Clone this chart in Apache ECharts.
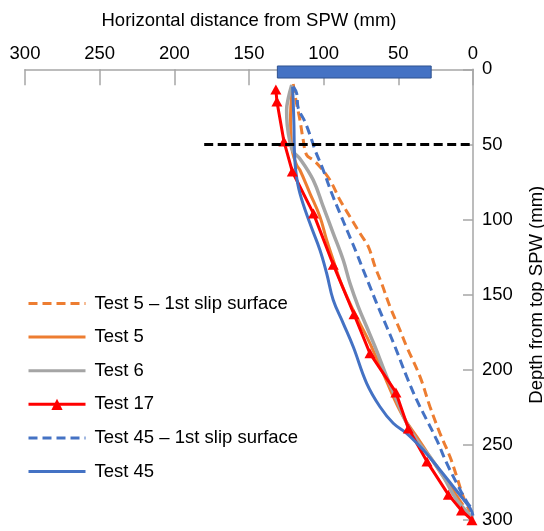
<!DOCTYPE html>
<html>
<head>
<meta charset="utf-8">
<script src="https://cdn.jsdelivr.net/npm/echarts@6/dist/echarts.min.js"></script>
<style>
html, body { margin: 0; padding: 0; background: #ffffff; }
#chart { width: 544px; height: 531px; }
</style>
</head>
<body>
<div id="chart"></div>
<script>
// x = horizontal distance from SPW (mm), y = depth from top SPW (mm)
const test5SlipX = [120.4, 118.6, 115.9, 113.7, 111.4, 107, 102.5, 95.8, 89.1, 82.4, 75.7, 70.1, 65.6, 61.2, 55.6, 48.9, 44.4, 35.5, 28.8, 22.1, 15.4, 10.9, 6.5, 2];
const test5SlipY = [9.8, 20.4, 33.8, 47, 57, 60.3, 64.8, 73.7, 86.9, 98.1, 109.1, 118, 131.3, 142.4, 157.9, 173.5, 184.6, 204.5, 224.5, 242.2, 257.8, 271, 284.4, 294.5];

const test5X = [120.4, 121.4, 122.2, 121.9, 120.9, 118.1, 115.9, 109.2, 102.5, 98, 93.6, 89.1, 82.4, 75.7, 69, 60.1, 53.4, 46.7, 37.7, 28.8, 19.9, 12.1, 6.7];
const test5Y = [10.4, 17.1, 30.4, 44.4, 55, 63.7, 67, 82.5, 98.1, 113.6, 126.9, 140.2, 155.7, 169, 182.3, 202.3, 217.8, 231.1, 244.4, 257.8, 271, 282.1, 289.9];

const test6X = [121.4, 123.7, 124.8, 124.4, 122.6, 120.4, 115.9, 107, 100.3, 93.6, 86.9, 82.4, 76.8, 71.2, 65.6, 57.8, 51.1, 45.5, 37.7, 28.8, 19.9, 10.9, 3.1, 0];
const test6Y = [10.4, 19.3, 27, 37, 48.2, 54.8, 59.5, 73.7, 91.4, 109.1, 126.9, 142.4, 158, 171.3, 184.6, 204.5, 220, 233.3, 246.6, 257.8, 271, 286.6, 295.4, 299.9];

const test17X = [132, 131.3, 126.6, 121, 106.8, 93.6, 79.7, 69, 51.6, 43.3, 30.8, 16.5, 7.7, 0.7];
const test17Y = [13.5, 21.5, 48, 68, 96, 130, 163, 189, 215, 239, 261, 283, 293.5, 300];

const test45SlipX = [120.4, 118.1, 117, 112.5, 108, 105.8, 100.3, 94.6, 89.1, 83.5, 77.9, 73.5, 69, 64.5, 57.8, 52.2, 44.4, 37.7, 31, 24.3, 17.6, 10.9, 4.2, 0];
const test45SlipY = [11.6, 16, 25.9, 35, 47, 53.7, 67, 82.5, 95.8, 109.1, 122.4, 133.5, 144.6, 155.7, 171.3, 184.6, 204.5, 220, 233.3, 246.6, 262.1, 275.4, 287.7, 293.2];

const test45X = [120.8, 120.4, 119.9, 119.6, 118.6, 115.9, 109.2, 102.5, 98, 93.6, 86.9, 80.2, 71.2, 62.3, 53.4, 44.4, 33.3, 22.1, 10.9, 2, 0];
const test45Y = [11.6, 21.6, 37.1, 53.7, 68.3, 82.5, 102.5, 120.2, 135.7, 153.5, 169, 184.6, 208.9, 224.5, 235.5, 242.2, 253.3, 266.6, 280.6, 291.9, 297];

// sheet pile wall outline and the reference depth line
const wallX = [131, 28];
const wallY = [-2.2, 5.8];
const refLineX = [180, 0];
const refLineY = [50, 50];

const seriesNames = ['Test 5 \u2013 1st slip surface', 'Test 5', 'Test 6', 'Test 17', 'Test 45 \u2013 1st slip surface', 'Test 45'];
const axisMin = 0;
const axisMax = 300;
const axisStep = 50;

function pairs(xs, ys) {
    return xs.map((x, i) => [x, ys[i]]);
}

const font = "'Liberation Sans', Arial, sans-serif";
const orange = '#ED7D31';
const gray = '#A5A5A5';
const red = '#FF0000';
const blue = '#4472C4';

const chart = echarts.init(document.getElementById('chart'));

function curve(name, xs, ys, color, width, dashed) {
    return {
        type: 'line',
        name: name,
        data: pairs(xs, ys),
        smooth: 0.4,
        symbol: 'none',
        lineStyle: { color: color, width: width, type: dashed ? [9, 5] : 'solid' },
        itemStyle: { color: color },
        z: 3
    };
}

const red17 = curve(seriesNames[3], test17X, test17Y, red, 3, false);
red17.symbol = 'triangle';
red17.symbolSize = [11, 10];
red17.showSymbol = true;
red17.smooth = false;

// only Test 17 has a marker in the legend
const legendItems = seriesNames.map(name => (
    name === 'Test 17' ? { name: name } : { name: name, itemStyle: { opacity: 0 } }
));

chart.setOption({
    animation: false,
    textStyle: { fontFamily: font },
    grid: { left: 25, right: 71, top: 69.3, bottom: 10.8, outerBoundsMode: 'none', containLabel: false },
    legend: {
        orient: 'vertical',
        left: 22,
        top: 289,
        itemWidth: 57,
        itemHeight: 14,
        itemGap: 14.6,
        data: legendItems,
        lineStyle: { width: 3 },
        textStyle: { fontSize: 18.5, color: '#000', fontFamily: font, padding: [0, 0, 0, 4] }
    },
    xAxis: {
        type: 'value',
        position: 'top',
        inverse: true,
        min: axisMin,
        max: axisMax,
        interval: axisStep,
        name: 'Horizontal distance from SPW (mm)',
        nameLocation: 'middle',
        nameGap: 39,
        nameTextStyle: { fontSize: 18.5, color: '#000', fontFamily: font },
        axisLine: { lineStyle: { color: '#A6A6A6', width: 1.5 } },
        axisTick: { inside: true, length: 16, lineStyle: { color: '#A6A6A6', width: 1.5 } },
        axisLabel: { fontSize: 18.5, color: '#000', margin: 6, fontFamily: font },
        splitLine: { show: false }
    },
    yAxis: {
        type: 'value',
        position: 'right',
        inverse: true,
        min: axisMin,
        max: axisMax,
        interval: axisStep,
        name: 'Depth from top SPW (mm)',
        nameLocation: 'middle',
        nameRotate: 90,
        nameGap: 54,
        nameTextStyle: { fontSize: 18.5, color: '#000', fontFamily: font },
        axisLine: { show: true, lineStyle: { color: '#A6A6A6', width: 1.5 } },
        axisTick: { show: true, inside: true, length: 10, lineStyle: { color: '#A6A6A6', width: 1.5 } },
        axisLabel: { fontSize: 18.5, color: '#000', margin: 9, fontFamily: font },
        splitLine: { show: false }
    },
    series: [
        curve(seriesNames[0], test5SlipX, test5SlipY, orange, 3, true),
        curve(seriesNames[1], test5X, test5Y, orange, 3, false),
        curve(seriesNames[2], test6X, test6Y, gray, 3.5, false),
        red17,
        curve(seriesNames[4], test45SlipX, test45SlipY, blue, 3, true),
        curve(seriesNames[5], test45X, test45Y, blue, 3, false),
        {
            type: 'line',
            name: 'ref',
            data: pairs(refLineX, refLineY),
            symbol: 'none',
            lineStyle: { color: '#000', width: 3, type: [9, 4.5] },
            z: 4
        },
        {
            type: 'custom',
            name: 'SPW',
            clip: false,
            z: 5,
            data: [[wallX[0], wallY[0], wallX[1], wallY[1]]],
            encode: { x: [0, 2], y: [1, 3] },
            renderItem: (params, api) => {
                const a = api.coord([api.value(0), api.value(1)]);
                const b = api.coord([api.value(2), api.value(3)]);
                return {
                    type: 'rect',
                    shape: {
                        x: Math.min(a[0], b[0]),
                        y: Math.min(a[1], b[1]),
                        width: Math.abs(b[0] - a[0]),
                        height: Math.abs(b[1] - a[1])
                    },
                    style: { fill: blue, stroke: '#2F528F', lineWidth: 1 }
                };
            }
        }
    ]
});
</script>
</body>
</html>
